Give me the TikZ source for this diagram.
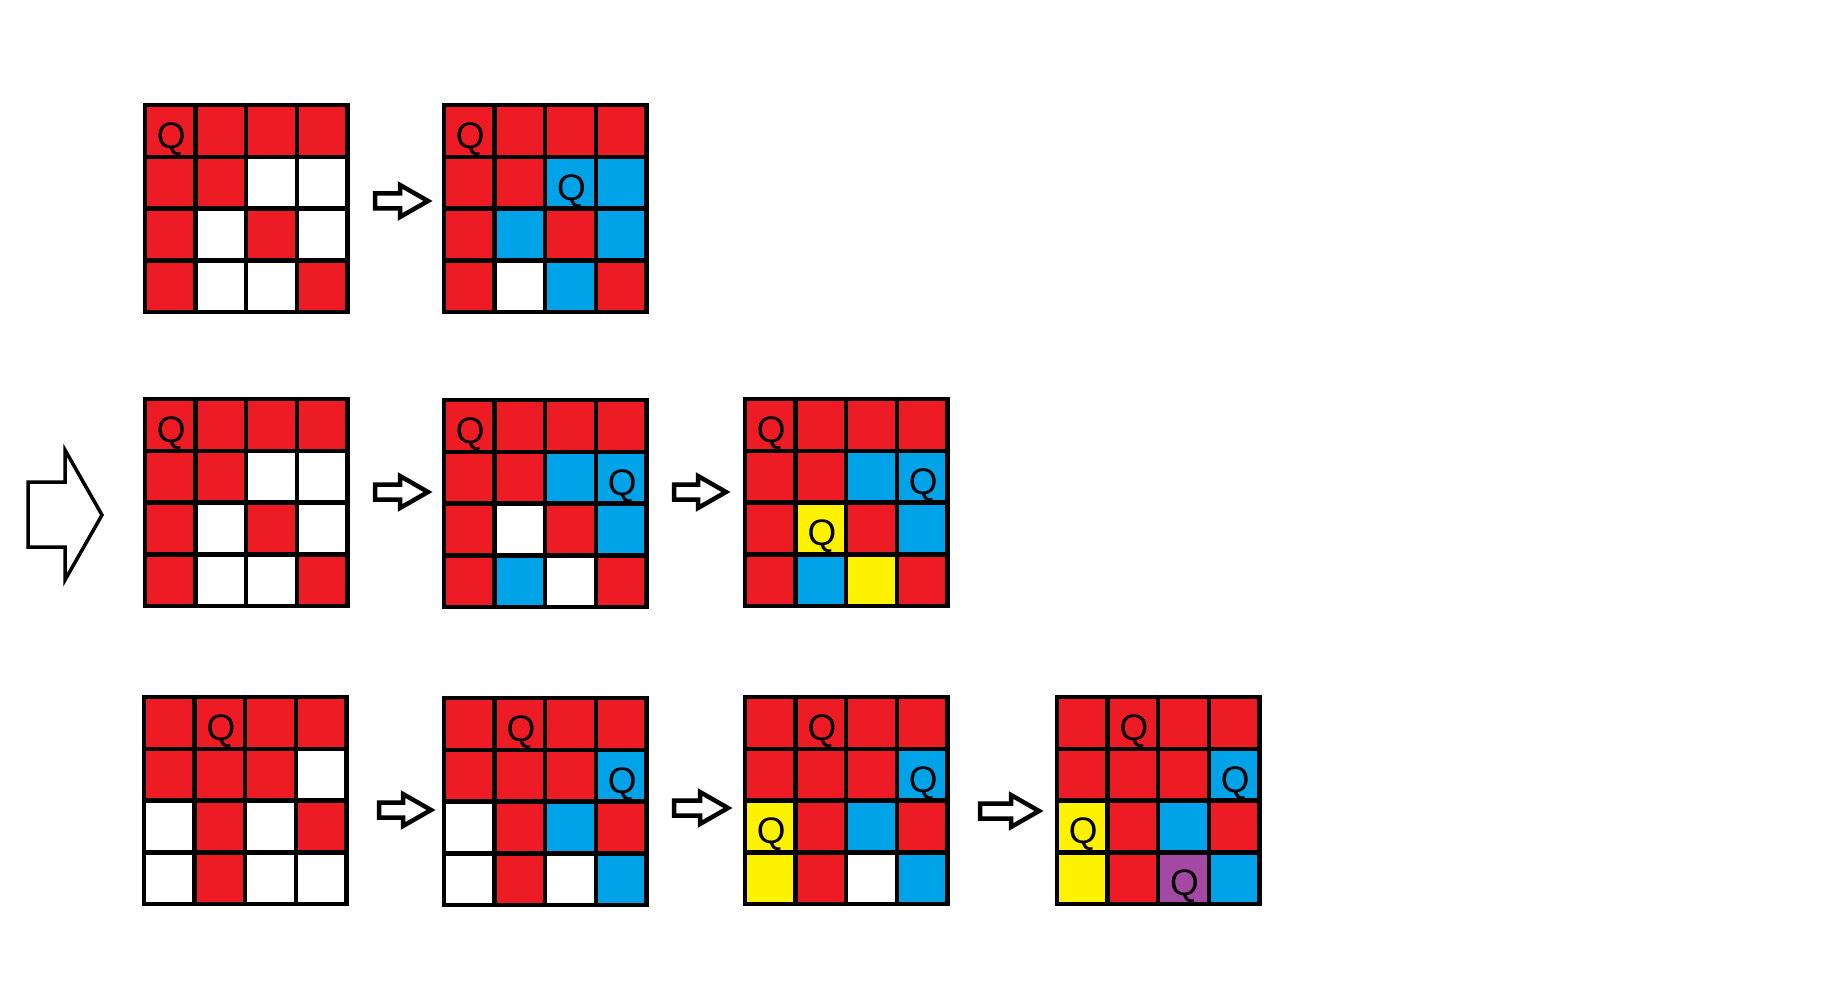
\documentclass[tikz,border=0pt]{standalone}
\usepackage{fontspec}
\setmainfont{Liberation Sans}
\definecolor{rouge}{HTML}{ED1C24}
\definecolor{bleu}{HTML}{00A2E8}
\definecolor{jaune}{HTML}{FFF200}
\definecolor{mauve}{HTML}{A349A4}
\definecolor{blanc}{HTML}{FFFFFF}
\tikzset{bord/.style={line width=0.09cm, line cap=rect},
	contour/.style={line width=0.09cm, line join=miter}}
\newcommand{\cw}{50.6}
\newcommand{\ch}{51.8}
\newcommand{\grille}[3]{\foreach \c [count=\k from 0] in {#3} {
	\pgfmathtruncatemacro{\colonne}{mod(\k,4)}
	\pgfmathtruncatemacro{\ligne}{div(\k,4)}
	\fill[\c] (#1+\colonne*\cw,#2+\ligne*\ch) rectangle ++(\cw,\ch);}
 \foreach \i in {0,...,4} {\draw[bord] (#1+\i*\cw,#2) --++ (0,4*\ch);
 	\draw[bord] (#1,#2+\i*\ch) --++ (4*\cw,0);}}
\newcommand{\reine}[5]{\node[dame] (#5) at (#1+#3*\cw+\cw/2+1,#2+#4*\ch+\ch/2+8) {Q}}
\newcommand{\fleche}[3]{\draw[contour] (#1,#2) ++(0,-7.5) --++ (#3-28,0)
	--++ (0,-8.5) --++ (28,16) --++ (-28,16) --++ (0,-8.5) --++ (-#3+28,0) -- cycle}

\begin{document}
\begin{tikzpicture}[x=0.02cm, y=-0.02cm,
	dame/.style={font=\fontsize{21}{24}\selectfont, inner sep=0pt}]
\useasboundingbox (0,0) rectangle (1823,1000);
%First row
	\grille{145}{105}{rouge,rouge,rouge,rouge, rouge,rouge,blanc,blanc, rouge,blanc,rouge,blanc, rouge,blanc,blanc,rouge};
	\reine{145}{105}{0}{0}{qa1};
	\fleche{375}{201}{53};
	\grille{444}{105}{rouge,rouge,rouge,rouge, rouge,rouge,bleu,bleu, rouge,bleu,rouge,bleu, rouge,blanc,bleu,rouge};
	\reine{444}{105}{0}{0}{qa2};
	\reine{444}{105}{2}{1}{qb2};
%Second row
	\draw[contour, line width=0.07cm] (28,482) -- (65,482) -- (65,450) -- (102,515)
		-- (65,580) -- (65,547) -- (28,547) -- cycle;
	\grille{145}{399}{rouge,rouge,rouge,rouge, rouge,rouge,blanc,blanc, rouge,blanc,rouge,blanc, rouge,blanc,blanc,rouge};
	\reine{145}{399}{0}{0}{ra1};
	\fleche{375}{492}{53};
	\grille{444}{400}{rouge,rouge,rouge,rouge, rouge,rouge,bleu,bleu, rouge,blanc,rouge,bleu, rouge,bleu,blanc,rouge};
	\reine{444}{400}{0}{0}{ra2};
	\reine{444}{400}{3}{1}{rb2};
	\fleche{674}{492}{52};
	\grille{745}{399}{rouge,rouge,rouge,rouge, rouge,rouge,bleu,bleu, rouge,jaune,rouge,bleu, rouge,bleu,jaune,rouge};
	\reine{745}{399}{0}{0}{ra3};
	\reine{745}{399}{3}{1}{rb3};
	\reine{745}{399}{1}{2}{rc3};
%Third row
	\grille{144}{697}{rouge,rouge,rouge,rouge, rouge,rouge,rouge,blanc, blanc,rouge,blanc,rouge, blanc,rouge,blanc,blanc};
	\reine{144}{697}{1}{0}{sa1};
	\fleche{379}{810}{52};
	\grille{444}{698}{rouge,rouge,rouge,rouge, rouge,rouge,rouge,bleu, blanc,rouge,bleu,rouge, blanc,rouge,blanc,bleu};
	\reine{444}{698}{1}{0}{sa2};
	\reine{444}{698}{3}{1}{sb2};
	\fleche{674}{808}{54};
	\grille{745}{697}{rouge,rouge,rouge,rouge, rouge,rouge,rouge,bleu, jaune,rouge,bleu,rouge, jaune,rouge,blanc,bleu};
	\reine{745}{697}{1}{0}{sa3};
	\reine{745}{697}{3}{1}{sb3};
	\reine{745}{697}{0}{2}{sc3};
	\fleche{980}{811}{59};
	\grille{1057}{697}{rouge,rouge,rouge,rouge, rouge,rouge,rouge,bleu, jaune,rouge,bleu,rouge, jaune,rouge,mauve,bleu};
	\reine{1057}{697}{1}{0}{sa4};
	\reine{1057}{697}{3}{1}{sb4};
	\reine{1057}{697}{0}{2}{sc4};
	\reine{1057}{697}{2}{3}{sd4};
\end{tikzpicture}
\end{document}
